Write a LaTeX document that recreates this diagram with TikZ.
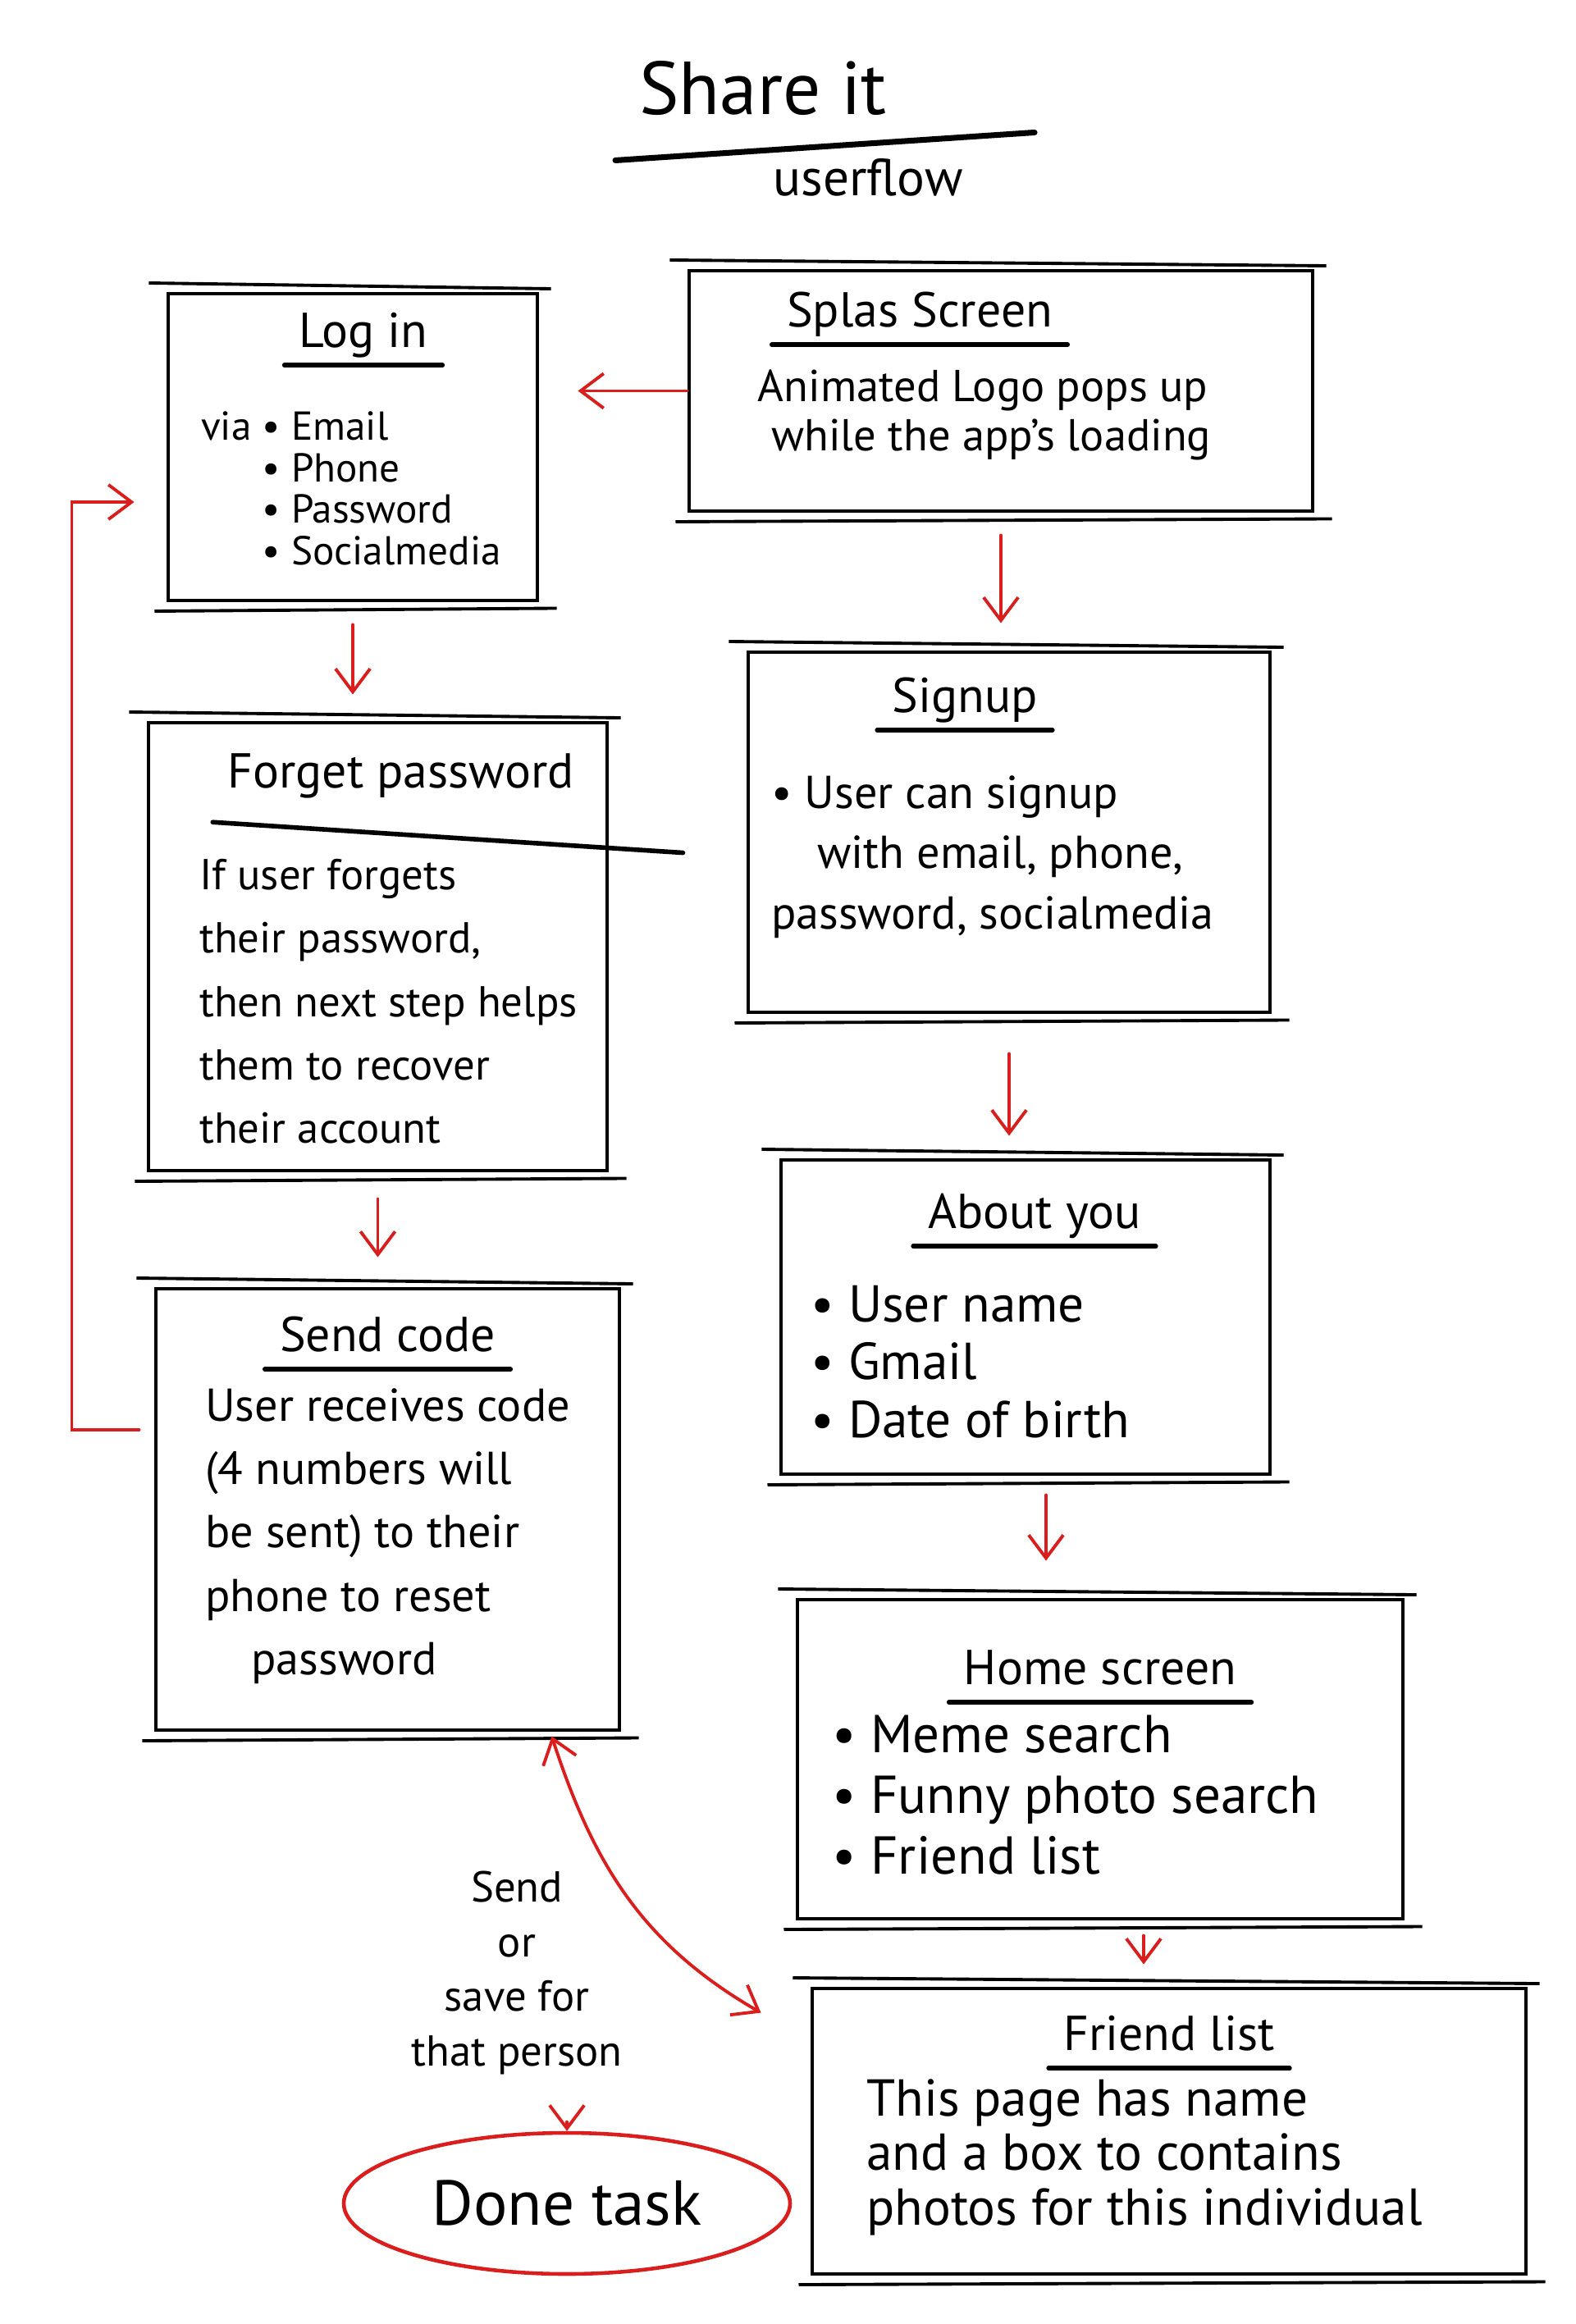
\documentclass[tikz,border=0pt]{standalone}
\usepackage{fontspec}
\setmainfont{PT Sans}
\usetikzlibrary{arrows.meta,positioning,shapes.geometric}
\definecolor{penred}{RGB}{218,30,30}

\begin{document}
\begin{tikzpicture}[>={Straight Barb[length=8pt,width=12pt]}, node distance=1cm]
        \tikzstyle{screenbox}=[rectangle, draw=black, line width=1.4pt, inner sep=0pt]
        \tikzstyle{boxhead}=[font=\fontsize{17}{20}\selectfont, inner sep=0pt, execute at begin node=\strut]
        \tikzstyle{boxtext}=[font=\fontsize{15}{21}\selectfont, inner sep=0pt, align=left]
        \tikzstyle{uline}=[line width=1.6pt, line cap=round]
        \tikzstyle{redarrow}=[->, draw=penred, line width=1.1pt, line cap=round]
        \useasboundingbox (0,0) rectangle (19.2,-28.33);

        % heading
        \node[font=\fontsize{26}{30}\selectfont] (title) at (9.30,-1.08) {Share it};
        \node[font=\fontsize{18}{22}\selectfont] (subtitle) at (10.58,-2.16) {userflow};
        \draw[uline, line width=2pt] ([xshift=-1.8cm,yshift=-0.42cm]title.south) -- ([xshift=3.31cm,yshift=-0.08cm]title.south);

        % screens
        \node[screenbox, minimum width=4.50cm, minimum height=3.74cm] (login) at (4.30,-5.45) {};
        \node[screenbox, minimum width=7.60cm, minimum height=2.93cm] (splash) at (12.20,-4.765) {};
        \node[screenbox, minimum width=6.36cm, minimum height=4.39cm] (signup) at (12.30,-10.145) {};
        \node[screenbox, minimum width=5.59cm, minimum height=5.46cm] (forget) at (4.605,-11.54) {};
        \node[screenbox, minimum width=5.96cm, minimum height=3.83cm] (about) at (12.50,-16.055) {};
        \node[screenbox, minimum width=5.65cm, minimum height=5.38cm] (sendcode) at (4.725,-18.40) {};
        \node[screenbox, minimum width=7.38cm, minimum height=3.89cm] (home) at (13.41,-21.445) {};
        \node[screenbox, minimum width=8.70cm, minimum height=3.48cm] (friend) at (14.25,-25.98) {};

        \node[boxhead, below=0.18cm of login.north, xshift=0.13cm] (login-t) {Log in};
        \node[boxtext, below=1.45cm of login.north, xshift=-0.02cm, font=\fontsize{14}{14.5}\selectfont] (login-b)
            {via \textbullet\ Email\\\hphantom{via }\textbullet\ Phone\\\hphantom{via }\textbullet\ Password\\\hphantom{via }\textbullet\ Socialmedia};

        \node[boxhead, below=0.21cm of splash.north, xshift=-0.99cm] (splash-t) {Splas Screen};
        \node[boxtext, below=1.23cm of splash.north, xshift=-0.20cm, font=\fontsize{15.5}{17}\selectfont] (splash-b)
            {Animated Logo pops up\\\hspace*{0.3em}while the app's loading};

        \node[boxhead, below=0.26cm of signup.north, xshift=-0.54cm] (signup-t) {Signup};
        \node[boxtext, below=1.52cm of signup.north, xshift=-0.20cm, font=\fontsize{16}{21}\selectfont] (signup-b)
            {\textbullet\ User can signup\\\hspace*{1em}with email, phone,\\password, socialmedia};

        \node[boxhead, below=0.32cm of forget.north, xshift=0.28cm] (forget-t) {Forget password};
        \node[boxtext, below=1.68cm of forget.north, xshift=0.13cm, font=\fontsize{15}{22}\selectfont] (forget-b)
            {If user forgets\\their password,\\then next step helps\\them to recover\\their account};

        \node[boxhead, below=0.36cm of about.north, xshift=0.11cm] (about-t) {About you};
        \node[boxtext, below=1.55cm of about.north, xshift=-0.67cm, font=\fontsize{18}{20}\selectfont] (about-b)
            {\textbullet\ User name\\\textbullet\ Gmail\\\textbullet\ Date of birth};

        \node[boxhead, below=0.29cm of sendcode.north] (sendcode-t) {Send code};
        \node[boxtext, below=1.23cm of sendcode.north, font=\fontsize{16}{22}\selectfont] (sendcode-b)
            {User receives code\\(4 numbers will\\be sent) to their\\phone to reset\\\hspace*{1em}password};

        \node[boxhead, below=0.56cm of home.north] (home-t) {Home screen};
        \node[boxtext, below=1.43cm of home.north, xshift=-0.30cm, font=\fontsize{18.5}{21}\selectfont] (home-b)
            {\textbullet\ Meme search\\\textbullet\ Funny photo search\\\textbullet\ Friend list};

        \node[boxhead, below=0.28cm of friend.north] (friend-t) {Friend list};
        \node[boxtext, below=1.12cm of friend.north, xshift=-0.30cm, font=\fontsize{18}{19}\selectfont] (friend-b)
            {This page has name\\and a box to contains\\photos for this individual};

        % underlines and second strokes
        \foreach \b in {login,splash,signup,about,sendcode,home,friend} {
            \draw[uline] ([xshift=-5pt]\b-t.south west) -- ([xshift=5pt]\b-t.south east);
        }
        \draw[uline] ([xshift=-5pt,yshift=-0.2cm]forget-t.south west) -- ([xshift=0.9cm,yshift=-1.61cm]forget.north east);
        \foreach \b in {login,splash,signup,forget,about,sendcode,home,friend} {
            \draw[line width=1.1pt] ([xshift=-6pt,yshift=3pt]\b.north west) -- ([xshift=4pt,yshift=1pt]\b.north east);
            \draw[line width=1.1pt] ([xshift=-4pt,yshift=-3pt]\b.south west) -- ([xshift=6pt,yshift=-2pt]\b.south east);
        }

        % end of the flow
        \node[draw=penred, line width=1.3pt, ellipse, minimum width=5.44cm, minimum height=1.72cm, font=\fontsize{22}{26}\selectfont] (done) at (6.91,-26.86) {Done task};
        \node[align=center, font=\fontsize{15}{19}\selectfont] (sendlabel) at (6.30,-24.05) {Send\\or\\save for\\that person};

        % arrows
        \path ([xshift=0.25cm]about.south) coordinate (aboutout);
        \path ([xshift=0.53cm]home.south) coordinate (homeout);
        \draw[redarrow, shorten >=0.47cm] (splash.west) -- (splash.west -| login.east);
        \draw[redarrow, shorten <=0.27cm, shorten >=0.32cm] (login.south) -- (login.south |- forget.north);
        \draw[redarrow, shorten <=0.27cm, shorten >=0.33cm] (splash.south) -- (splash.south |- signup.north);
        \draw[redarrow, shorten <=0.48cm, shorten >=0.27cm] (signup.south) -- (signup.south |- about.north);
        \draw[redarrow, shorten <=0.32cm, shorten >=0.36cm] (forget.south) -- (forget.south |- sendcode.north);
        \draw[redarrow, shorten <=0.23cm, shorten >=0.45cm] (aboutout) -- (aboutout |- home.north);
        \draw[redarrow, shorten <=0.18cm, shorten >=0.27cm] (homeout) -- (homeout |- friend.north);
        \draw[redarrow, shorten <=0.18cm, shorten >=0.39cm] ([yshift=0.97cm]sendcode.west) -- ++(-1.0,0) |- ([yshift=-0.67cm]login.west);
        \draw[redarrow, <->] ([xshift=2.0cm,yshift=-0.05cm]sendcode.south) to[out=-72, in=150] ([xshift=-0.6cm,yshift=-0.32cm]friend.north west);
        \draw[redarrow, shorten <=0.45cm] (sendlabel.south -| done.north) -- (done.north);
    \end{tikzpicture}
\end{document}
